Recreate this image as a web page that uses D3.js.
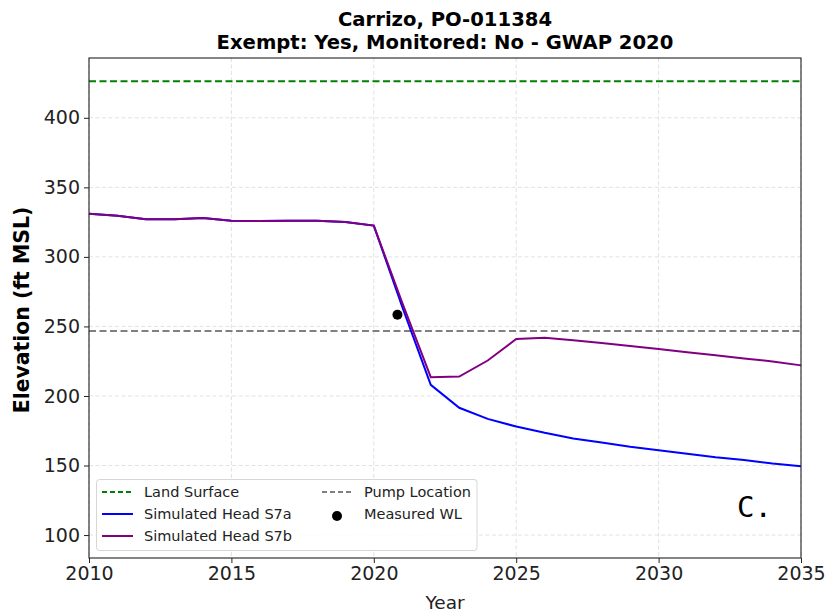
<!DOCTYPE html>
<html>
<head>
<meta charset="utf-8">
<script src="https://cdn.jsdelivr.net/npm/d3@7"></script>
<style>
  body { margin: 0; background: #fff; }
  svg { font-family: "DejaVu Sans", sans-serif; }
</style>
</head>
<body>
<div id="chart"></div>
<script>
// data
const years = [2010, 2011, 2012, 2013, 2014, 2015, 2016, 2017, 2018, 2019, 2020, 2021, 2022,
    2023, 2024, 2025, 2026, 2027, 2028, 2029, 2030, 2031, 2032, 2033, 2034, 2035];
const headS7a = [331, 329.5, 327, 327, 328, 326, 325.8, 326, 326, 325, 322.5, 264, 208,
    191.5, 183.5, 178, 173.5, 169.5, 166.5, 163.5, 161, 158.5, 156, 154, 151.5, 149.5];
const headS7b = [331, 329.5, 327, 327, 328, 326, 325.8, 326, 326, 325, 322.5, 267, 213.5,
    214, 225.5, 241, 241.8, 240, 238, 236, 233.8, 231.5, 229.3, 227, 224.8, 222];
const landSurface = 426.3;
const pumpLocation = 246.7;
const measured = [{ year: 2020.83, value: 258.4 }];
const xTicks = [2010, 2015, 2020, 2025, 2030, 2035];
const yTicks = [100, 150, 200, 250, 300, 350, 400];

const W = 830, H = 613;
const margin = { top: 58, right: 29, bottom: 55, left: 89 };
const width = W - margin.left - margin.right,
    height = H - margin.top - margin.bottom;

const svg = d3.select("#chart").append("svg")
    .attr("width", W).attr("height", H);

const g = svg.append("g")
    .attr("transform", `translate(${margin.left},${margin.top})`);

const x = d3.scaleLinear().domain([2010, 2035]).range([0, width]);
const y = d3.scaleLinear().domain([83.5, 443]).range([height, 0]);

// grid
g.append("g").selectAll("line").data(xTicks).enter().append("line")
    .attr("x1", d => x(d)).attr("x2", d => x(d))
    .attr("y1", 0).attr("y2", height)
    .attr("stroke", "#d9d9d9").attr("stroke-width", 0.8).attr("stroke-dasharray", "4,2.5");
g.append("g").selectAll("line").data(yTicks).enter().append("line")
    .attr("y1", d => y(d)).attr("y2", d => y(d))
    .attr("x1", 0).attr("x2", width)
    .attr("stroke", "#d9d9d9").attr("stroke-width", 0.8).attr("stroke-dasharray", "4,2.5");

// axes
const xAxis = g.append("g")
    .attr("transform", `translate(0,${height})`)
    .call(d3.axisBottom(x).tickValues(xTicks).tickFormat(d3.format("d")).tickSizeOuter(0).tickSize(5).tickPadding(4));
const yAxis = g.append("g")
    .call(d3.axisLeft(y).tickValues(yTicks).tickSizeOuter(0).tickSize(5).tickPadding(4));
[xAxis, yAxis].forEach(a => {
    a.selectAll("text").attr("font-size", 19).attr("fill", "#222").attr("font-family", "DejaVu Sans");
    a.select(".domain").remove();
    a.selectAll("line").attr("stroke", "#222");
});

// reference lines
g.append("line")
    .attr("x1", 0).attr("x2", width)
    .attr("y1", y(landSurface)).attr("y2", y(landSurface))
    .attr("stroke", "green").attr("stroke-width", 2).attr("stroke-dasharray", "7,3.5");
g.append("line")
    .attr("x1", 0).attr("x2", width)
    .attr("y1", y(pumpLocation)).attr("y2", y(pumpLocation))
    .attr("stroke", "gray").attr("stroke-width", 2).attr("stroke-dasharray", "7,3.5");

const line = d3.line().x((d, i) => x(years[i])).y(d => y(d));
g.append("path").datum(headS7a)
    .attr("d", line).attr("fill", "none").attr("stroke", "blue").attr("stroke-width", 2);
g.append("path").datum(headS7b)
    .attr("d", line).attr("fill", "none").attr("stroke", "purple").attr("stroke-width", 2);

g.selectAll(".dot").data(measured).enter().append("circle")
    .attr("cx", d => x(d.year)).attr("cy", d => y(d.value))
    .attr("r", 5).attr("fill", "black");

// frame
g.append("rect").attr("width", width).attr("height", height)
    .attr("fill", "none").attr("stroke", "#222").attr("stroke-width", 1.1);

// titles
svg.append("text").attr("x", 445).attr("y", 25.5).attr("text-anchor", "middle")
    .attr("font-size", 19.6).attr("font-weight", "bold").text("Carrizo, PO-011384");
svg.append("text").attr("x", 445).attr("y", 48.5).attr("text-anchor", "middle")
    .attr("font-size", 19.6).attr("font-weight", "bold").text("Exempt: Yes, Monitored: No - GWAP 2020");

svg.append("text").attr("x", margin.left + width / 2).attr("y", 609).attr("text-anchor", "middle")
    .attr("font-size", 18.5).attr("fill", "#222").text("Year");
svg.append("text")
    .attr("transform", `translate(29,310) rotate(-90)`)
    .attr("text-anchor", "middle").attr("font-size", 20.4).attr("font-weight", "bold")
    .text("Elevation (ft MSL)");

// annotation
svg.append("text").attr("x", 737).attr("y", 517)
    .attr("font-family", "DejaVu Sans Mono").attr("font-size", 29).text("C.");

// legend
const legendItems = [
    { label: "Land Surface", color: "green", dash: "5,3", type: "line", col: 0, row: 0 },
    { label: "Simulated Head S7a", color: "blue", dash: null, type: "line", col: 0, row: 1 },
    { label: "Simulated Head S7b", color: "purple", dash: null, type: "line", col: 0, row: 2 },
    { label: "Pump Location", color: "gray", dash: "5,3", type: "line", col: 1, row: 0 },
    { label: "Measured WL", color: "black", dash: null, type: "dot", col: 1, row: 1 }
];
const lg = svg.append("g");
lg.append("rect").attr("x", 96.5).attr("y", 479.5).attr("width", 380.5).attr("height", 71)
    .attr("rx", 3).attr("fill", "white").attr("fill-opacity", 0.85)
    .attr("stroke", "#d6d6d6").attr("stroke-width", 1);
const colX = [102, 322];
const rowY = [492, 514, 536];
legendItems.forEach(d => {
    const lx = colX[d.col], ly = rowY[d.row];
    if (d.type === "line") {
        lg.append("line").attr("x1", lx).attr("x2", lx + 31).attr("y1", ly).attr("y2", ly)
            .attr("stroke", d.color).attr("stroke-width", 2)
            .attr("stroke-dasharray", d.dash);
    } else {
        lg.append("circle").attr("cx", lx + 15).attr("cy", ly + 2).attr("r", 5).attr("fill", d.color);
    }
    lg.append("text").attr("x", lx + 42).attr("y", ly + 5)
        .attr("font-size", 14.5).attr("fill", "#222").text(d.label);
});
</script>
</body>
</html>
